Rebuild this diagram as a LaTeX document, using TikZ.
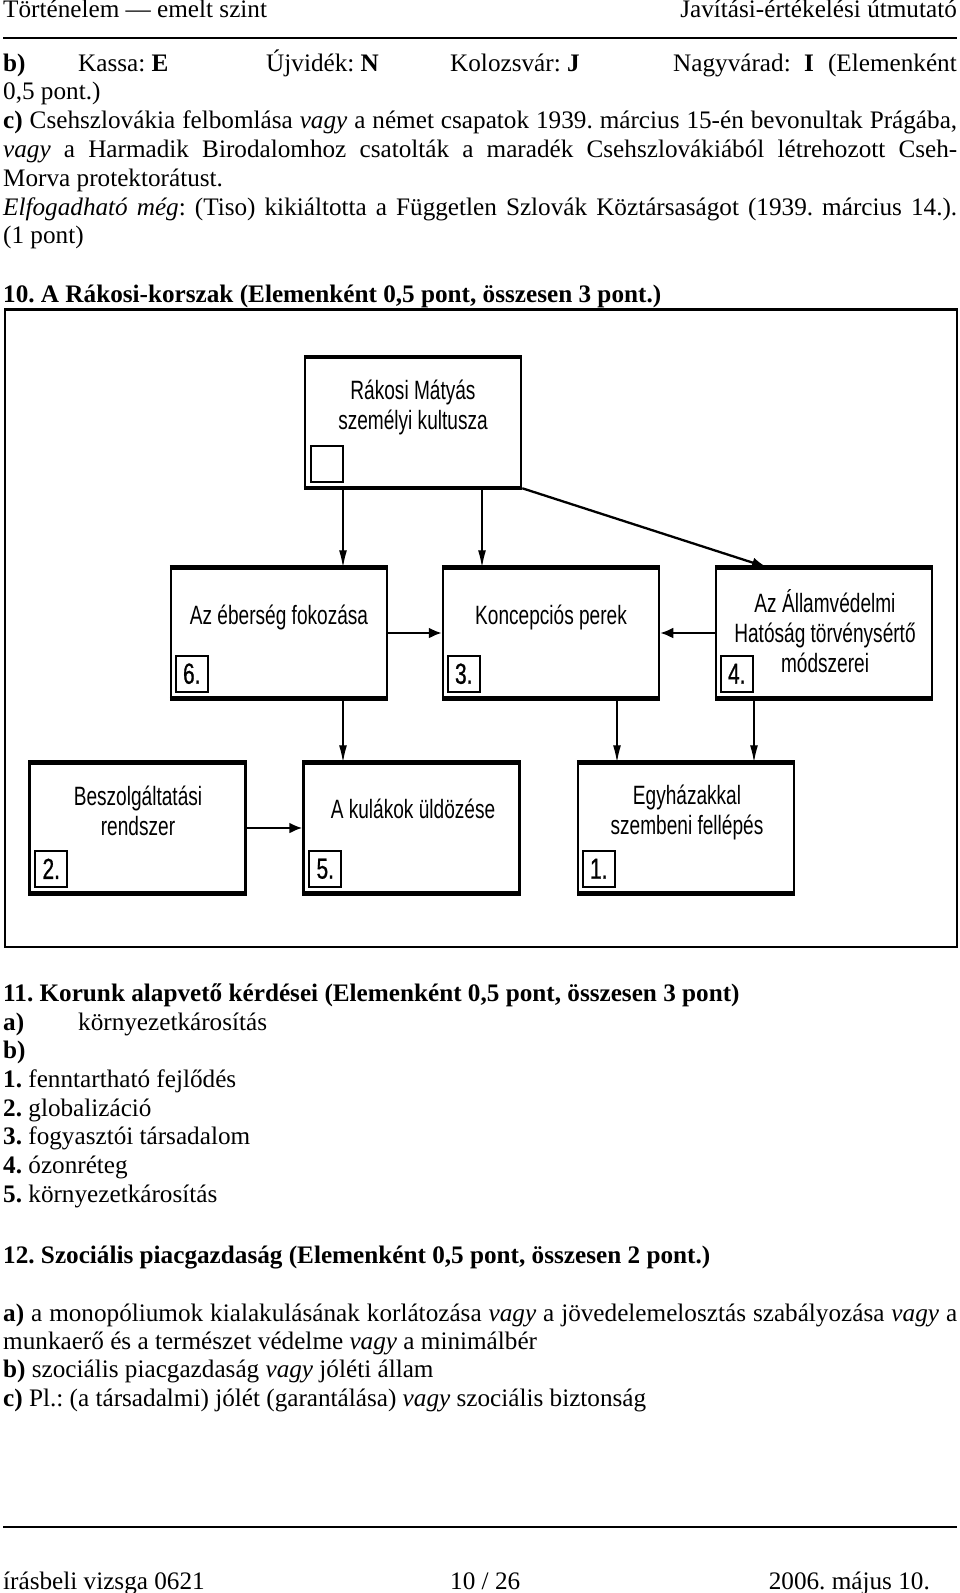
\documentclass[tikz,border=0pt]{standalone}
\usepackage{fontspec}
\setmainfont{Liberation Serif}
\newfontfamily\boxfont[FakeStretch=0.72]{Liberation Sans}
\newfontfamily\numfont[FakeStretch=0.72,FakeBold=0.8]{Liberation Sans}
\usetikzlibrary{arrows.meta,calc}
\begin{document}
\frenchspacing
\begin{tikzpicture}[x=1pt,y=-1pt]
\tikzset{
 body/.style={anchor=base west, inner sep=0pt, font=\fontsize{25.2}{29}\selectfont},
 bodyr/.style={body, anchor=base east},
 dbox/.style={draw, line width=2.5pt, minimum width=216pt, minimum height=129pt, inner sep=0pt},
 edge/.style={line width=3.6pt},
 dtext/.style={font=\boxfont\fontsize{26.5}{30}\selectfont, align=center, inner sep=0pt},
 numbox/.style={draw, line width=2.2pt, minimum width=32pt, minimum height=36pt, inner sep=0pt, font=\numfont\fontsize{29}{30}\selectfont},
 thinarrow/.style={-{Latex[length=17pt,width=8pt]}, line width=1.3pt},
 thickarrow/.style={-{Latex[length=13pt,width=11pt]}, line width=2.2pt},
 rule/.style={line width=2pt},
}
\useasboundingbox (0,0) rectangle (960,1593);
% header
\node[body] (h1) at (3,17) {Történelem — emelt szint};
\node[bodyr] (h2) at (957,17) {Javítási-értékelési útmutató};
\coordinate (r1a) at (3,38); \coordinate (r1b) at (957,38);
\draw[rule] (r1a) -- (r1b);
% section 9
\node[body] (t1) at (3,71) {\textbf{b)}};
\node[body] (t2) at (78,71) {Kassa: \textbf{E}};
\node[body] (t3) at (266,71) {Újvidék: \textbf{N}};
\node[body] (t4) at (450,71) {Kolozsvár: \textbf{J}};
\node[body] (t5) at (673,71) {Nagyvárad:};
\node[body] (t6) at (804,71) {\textbf{I}};
\node[bodyr] (t7) at (957,71) {(Elemenként};
\node[body] (t8) at (3,99) {0,5 pont.)};
\node[body] (t9) at (3,128) {\makebox[954pt][s]{\textbf{c)} Csehszlovákia felbomlása \textit{vagy} a német csapatok 1939. március 15-én bevonultak Prágába,}};
\node[body] (t10) at (3,157) {\makebox[954pt][s]{\textit{vagy} a Harmadik Birodalomhoz csatolták a maradék Csehszlovákiából létrehozott Cseh-}};
\node[body] (t11) at (3,186) {Morva protektorátust.};
\node[body] (t12) at (3,215) {\makebox[954pt][s]{\textit{Elfogadható még}: (Tiso) kikiáltotta a Független Szlovák Köztársaságot (1939. március 14.).}};
\node[body] (t13) at (3,243) {(1 pont)};
\node[body] (t14) at (3,302) {\textbf{10. A Rákosi-korszak (Elemenként 0,5 pont, összesen 3 pont.)}};
% frame
\node[draw, line width=1.6pt, inner sep=0pt, minimum width=952pt, minimum height=637pt] (frame) at (481,628.5) {};
\draw[line width=2.6pt] (frame.north west) -- (frame.north east);
% boxes
\node[dbox] (T) at (413,422.5) {};
\node[dbox] (A) at (279,633) {};
\node[dbox] (B) at (551,633) {};
\node[dbox] (C) at (824,633) {};
\node[dbox] (D) at (137.5,828) {};
\node[dbox] (E) at (411.5,828) {};
\node[dbox] (F) at (686,828) {};
\foreach \b in {T,A,B,C,D,E,F}{
  \draw[edge] (\b.north west) -- (\b.north east);
  \draw[edge] (\b.south west) -- (\b.south east);
}
% box texts
\node[dtext] (Tt) at (413,407) {Rákosi Mátyás\\személyi kultusza};
\node[dtext] (At) at (279,617) {Az éberség fokozása};
\node[dtext] (Bt) at (551,617) {Koncepciós perek};
\node[dtext] (Ct) at (825,631) {Az Államvédelmi\\Hatóság törvénysértő\\módszerei};
\node[dtext] (Dt) at (138,811) {Beszolgáltatási\\rendszer};
\node[dtext] (Et) at (413,809) {A kulákok üldözése};
\node[dtext] (Ft) at (687,812) {Egyházakkal\\szembeni fellépés};
% number boxes
\node[numbox] (Tn) at ($(T.south west)+(23,-24)$) {};
\node[numbox] (An) at ($(A.south west)+(22,-25)$) {6.};
\node[numbox] (Bn) at ($(B.south west)+(22,-25)$) {3.};
\node[numbox] (Cn) at ($(C.south west)+(22,-25)$) {4.};
\node[numbox] (Dn) at ($(D.south west)+(23,-25)$) {2.};
\node[numbox] (En) at ($(E.south west)+(23,-25)$) {5.};
\node[numbox] (Fn) at ($(F.south west)+(22,-25)$) {1.};
% arrow columns
\coordinate (x1) at (343,0);
\coordinate (x2) at (482,0);
\coordinate (x3) at (767,0);
\coordinate (x4) at (617,0);
\coordinate (x5) at (754,0);
\draw[thinarrow] (T.south -| x1) -- (A.north -| x1);
\draw[thinarrow] (T.south -| x2) -- (B.north -| x2);
\draw[-{Latex[length=15pt,width=10pt]}, line width=2.3pt] (T.south east) -- (C.north -| x3);
\draw[thickarrow] (A.east) -- (B.west);
\draw[thickarrow] (C.west) -- (B.east);
\draw[thinarrow] (A.south -| x1) -- (E.north -| x1);
\draw[thinarrow] (B.south -| x4) -- (F.north -| x4);
\draw[thinarrow] (C.south -| x5) -- (F.north -| x5);
\draw[thickarrow] (D.east) -- (E.west);
% section 11
\node[body] (u1) at (3,1001) {\textbf{11. Korunk alapvető kérdései (Elemenként 0,5 pont, összesen 3 pont)}};
\node[body] (u2) at (3,1030) {\textbf{a)}};
\node[body] (u3) at (78,1030) {környezetkárosítás};
\node[body] (u4) at (3,1058) {\textbf{b)}};
\node[body] (u5) at (3,1087) {\textbf{1.} fenntartható fejlődés};
\node[body] (u6) at (3,1116) {\textbf{2.} globalizáció};
\node[body] (u7) at (3,1144) {\textbf{3.} fogyasztói társadalom};
\node[body] (u8) at (3,1173) {\textbf{4.} ózonréteg};
\node[body] (u9) at (3,1202) {\textbf{5.} környezetkárosítás};
% section 12
\node[body] (v1) at (3,1263) {\textbf{12. Szociális piacgazdaság (Elemenként 0,5 pont, összesen 2 pont.)}};
\node[body] (v2) at (3,1321) {\makebox[954pt][s]{\textbf{a)} a monopóliumok kialakulásának korlátozása \textit{vagy} a jövedelemelosztás szabályozása \textit{vagy} a}};
\node[body] (v3) at (3,1349) {munkaerő és a természet védelme \textit{vagy} a minimálbér};
\node[body] (v4) at (3,1377) {\textbf{b)} szociális piacgazdaság \textit{vagy} jóléti állam};
\node[body] (v5) at (3,1406) {\textbf{c)} Pl.: (a társadalmi) jólét (garantálása) \textit{vagy} szociális biztonság};
% footer
\coordinate (r2a) at (3,1527); \coordinate (r2b) at (957,1527);
\draw[rule] (r2a) -- (r2b);
\node[body] (f1) at (3,1589) {írásbeli vizsga 0621};
\node[body] (f2) at (450,1589) {10 / 26};
\node[bodyr] (f3) at (930,1589) {2006. május 10.};
\end{tikzpicture}
\end{document}
